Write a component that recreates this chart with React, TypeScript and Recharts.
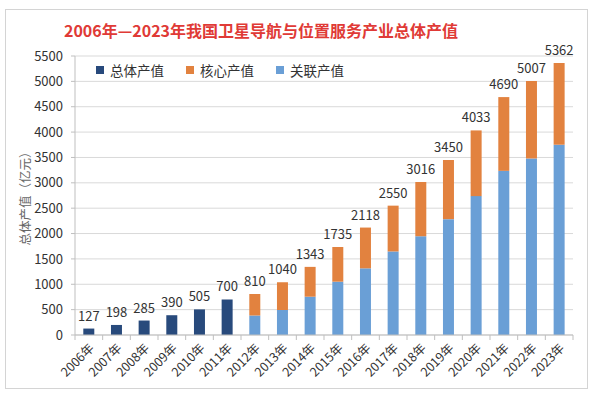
import React from "react";
import { BarChart, Bar, XAxis, YAxis, CartesianGrid, LabelList } from "recharts";

const years = ["2006年", "2007年", "2008年", "2009年", "2010年", "2011年", "2012年", "2013年", "2014年", "2015年", "2016年", "2017年", "2018年", "2019年", "2020年", "2021年", "2022年", "2023年"];
// total output: only reported as a single figure before 2012
const totalOnly = [127, 198, 285, 390, 505, 700, null, null, null, null, null, null, null, null, null, null, null, null];
const related = [null, null, null, null, null, null, 385, 493, 755, 1051, 1314, 1647, 1947, 2284, 2738, 3236, 3480, 3751];
const core = [null, null, null, null, null, null, 425, 547, 588, 684, 804, 903, 1069, 1166, 1295, 1454, 1527, 1611];
const sums = [127, 198, 285, 390, 505, 700, 810, 1040, 1343, 1735, 2118, 2550, 3016, 3450, 4033, 4690, 5007, 5362];
const yTicks = [0, 500, 1000, 1500, 2000, 2500, 3000, 3500, 4000, 4500, 5000, 5500];

const NAVY = "#284a7c";
const ORANGE = "#e2823f";
const BLUE = "#6a9fd6";
const FONT = "'Noto Sans CJK SC', 'Noto Sans', sans-serif";
const BAND = 498 / 18;

const legendItems = [
  { name: "总体产值", color: NAVY },
  { name: "核心产值", color: ORANGE },
  { name: "关联产值", color: BLUE },
];

const data = years.map((year, i) => ({
  year,
  total: totalOnly[i],
  related: related[i],
  core: core[i],
  sum: sums[i],
}));

const TopLabel = (props: any) => {
  const { x, y, width, value } = props;
  if (value === null || value === undefined) return null;
  return (
    <text x={x + width / 2} y={y - 8} textAnchor="middle" fontSize={13} fill="#333" fontFamily={FONT}>
      {value}
    </text>
  );
};

const YearTick = (props: any) => {
  const { x, y, payload, index } = props;
  return (
    <g>
      <line x1={x - BAND / 2} x2={x - BAND / 2} y1={y} y2={y + 5} stroke="#bfbfbf" />
      {index === years.length - 1 && (
        <line x1={x + BAND / 2} x2={x + BAND / 2} y1={y} y2={y + 5} stroke="#bfbfbf" />
      )}
      <text
        x={x + 6}
        y={y + 14}
        textAnchor="end"
        fontSize={12.5}
        fill="#333"
        fontFamily={FONT}
        transform={`rotate(-45, ${x + 6}, ${y + 14})`}
      >
        {payload.value}
      </text>
    </g>
  );
};

export default function App() {
  return (
    <div style={{ position: "absolute", left: 0, top: 0, width: 594, height: 398, background: "#fff", fontFamily: FONT }}>
      <div
        style={{
          position: "absolute",
          left: 5,
          top: 9,
          width: 583,
          height: 380,
          border: "1px solid #d4d4d4",
          boxSizing: "border-box",
        }}
      />
      <div
        style={{
          position: "absolute",
          left: 0,
          width: 522,
          top: 18,
          textAlign: "center",
          color: "#e03a36",
          fontWeight: "bold",
          fontSize: 16,
          fontFamily: FONT,
        }}
      >
        2006年—2023年我国卫星导航与位置服务产业总体产值
      </div>
      <BarChart
        width={594}
        height={398}
        data={data}
        margin={{ top: 56, right: 21, bottom: 8, left: 30 }}
        barCategoryGap="30%"
        style={{ position: "absolute", left: 0, top: 0 }}
      >
        <CartesianGrid vertical={false} stroke="#d9d9d9" />
        <XAxis
          dataKey="year"
          interval={0}
          height={55}
          tick={<YearTick />}
          tickLine={false}
          tickSize={0}
          tickMargin={0}
          axisLine={{ stroke: "#bfbfbf" }}
        />
        <YAxis
          width={45}
          domain={[0, 5500]}
          ticks={yTicks}
          interval={0}
          tickSize={4}
          tickMargin={8}
          tickLine={{ stroke: "#bfbfbf" }}
          axisLine={{ stroke: "#bfbfbf" }}
          tick={{ fontSize: 13, fill: "#333", fontFamily: FONT }}
          label={{
            value: "总体产值（亿元）",
            angle: -90,
            position: "insideLeft",
            dx: -9,
            dy: 0,
            style: { fontSize: 12.5, fill: "#666", fontFamily: FONT, textAnchor: "middle" },
          }}
        />
        <Bar dataKey="total" stackId="a" fill={NAVY} isAnimationActive={false}>
          <LabelList dataKey="total" content={<TopLabel />} />
        </Bar>
        <Bar dataKey="related" stackId="a" fill={BLUE} isAnimationActive={false} />
        <Bar dataKey="core" stackId="a" fill={ORANGE} isAnimationActive={false}>
          <LabelList dataKey="sum" content={<TopLabel />} />
        </Bar>
      </BarChart>
      <div
        style={{
          position: "absolute",
          left: 96,
          top: 60,
          display: "flex",
          gap: 22,
          fontSize: 13.5,
          color: "#333",
          fontFamily: FONT,
        }}
      >
        {legendItems.map((it) => (
          <span key={it.name} style={{ display: "flex", alignItems: "center" }}>
            <span style={{ width: 8, height: 8, background: it.color, marginRight: 6, display: "inline-block" }} />
            {it.name}
          </span>
        ))}
      </div>
    </div>
  );
}
